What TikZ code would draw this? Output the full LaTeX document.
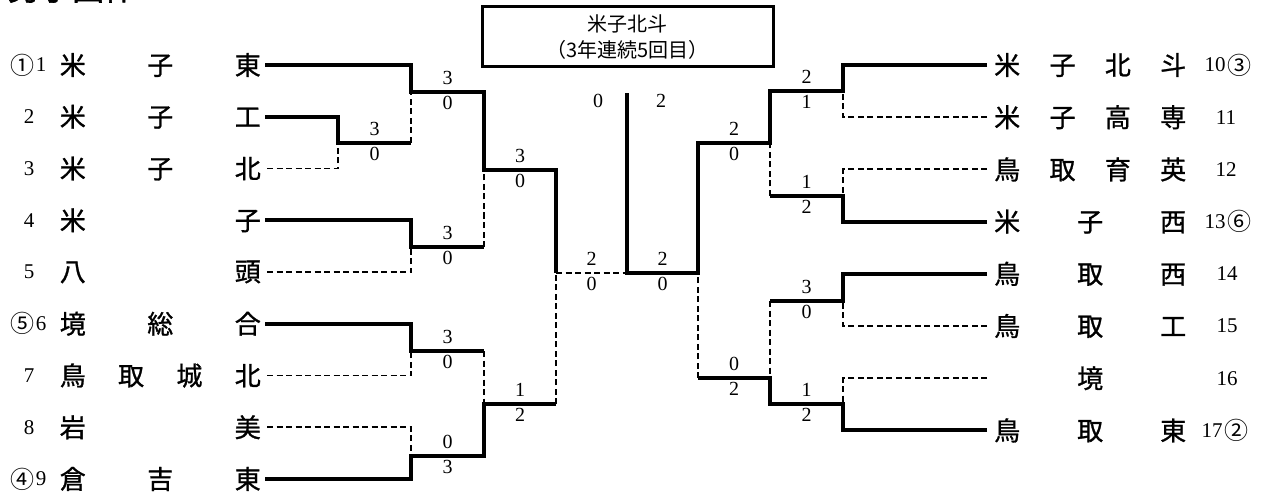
\documentclass[tikz,border=0pt]{standalone}
\usepackage{fontspec}
\newfontfamily\jp{Noto Sans CJK JP}
\newfontfamily\jpn[FakeBold=1]{Noto Sans CJK JP}
\newfontfamily\jpb[FakeBold=2]{Noto Sans CJK JP}
\newfontfamily\dg{Liberation Serif}
\newcommand\spL[1]{\makebox[201pt][s]{#1}}
\newcommand\spR[1]{\makebox[192pt][s]{#1}}
\newcommand\score[5]{%
  \node[sc] (#1t) at ({#2},{#3-14}) {#4};
  \node[sc] (#1b) at ({#2},{#3+11}) {#5};}
\begin{document}
\begin{tikzpicture}[x=1pt,y=-1pt,
  win/.style={line width=4pt},
  lose/.style={line width=1.8pt,dash pattern=on 6pt off 3.5pt},
  lname/.style={anchor=east,inner sep=0pt,font=\jpn\fontsize{26}{30}\selectfont},
  rname/.style={anchor=west,inner sep=0pt,font=\jpn\fontsize{26}{30}\selectfont},
  num/.style={inner sep=0pt,font=\dg\fontsize{21}{24}\selectfont},
  cnum/.style={inner sep=0pt,font=\jp\fontsize{24}{26}\selectfont},
  sc/.style={inner sep=0pt,font=\dg\fontsize{20}{22}\selectfont},
  titlebox/.style={draw,line width=3pt,minimum width=291pt,minimum height=60pt,
    align=center,inner sep=0pt,font=\jp\fontsize{20}{26}\selectfont}]
\useasboundingbox (0,0) rectangle (1263,497);
\fill[white] (0,0) rectangle (1263,497);
% cut-off heading
\node[anchor=base west,inner sep=0pt,font=\jpb\fontsize{32}{36}\selectfont] (head) at (8,0) {男子団体};
% title box
\node[titlebox] (title) at (627.5,37) {米子北斗\\（3年連続5回目）};
% left numbers
\node[cnum] (c1n) at (22,65) {①};   \node[num] (n1) at (41,65) {1};
\node[num] (n2) at (29,116.75) {2};
\node[num] (n3) at (29,168.5) {3};
\node[num] (n4) at (29,220.25) {4};
\node[num] (n5) at (29,272) {5};
\node[cnum] (c6n) at (22,323.75) {⑤}; \node[num] (n6) at (41,323.75) {6};
\node[num] (n7) at (29,375.5) {7};
\node[num] (n8) at (29,427.25) {8};
\node[cnum] (c9n) at (22,479) {④}; \node[num] (n9) at (41,479) {9};
% left names
\node[lname] (L1) at (261,65) {\spL{米\hfil 子\hfil 東}};
\node[lname] (L2) at (261,116.75) {\spL{米\hfil 子\hfil 工}};
\node[lname] (L3) at (261,168.5) {\spL{米\hfil 子\hfil 北}};
\node[lname] (L4) at (261,220.25) {\spL{米\hfil 子}};
\node[lname] (L5) at (261,272) {\spL{八\hfil 頭}};
\node[lname] (L6) at (261,323.75) {\spL{境\hfil 総\hfil 合}};
\node[lname] (L7) at (261,375.5) {\spL{鳥\hfil 取\hfil 城\hfil 北}};
\node[lname] (L8) at (261,427.25) {\spL{岩\hfil 美}};
\node[lname] (L9) at (261,479) {\spL{倉\hfil 吉\hfil 東}};
% right names
\node[rname] (R10) at (994,65) {\spR{米\hfil 子\hfil 北\hfil 斗}};
\node[rname] (R11) at (994,117.2) {\spR{米\hfil 子\hfil 高\hfil 専}};
\node[rname] (R12) at (994,169.4) {\spR{鳥\hfil 取\hfil 育\hfil 英}};
\node[rname] (R13) at (994,221.6) {\spR{米\hfil 子\hfil 西}};
\node[rname] (R14) at (994,273.8) {\spR{鳥\hfil 取\hfil 西}};
\node[rname] (R15) at (994,326) {\spR{鳥\hfil 取\hfil 工}};
\node[rname] (R16) at (994,378.2) {\makebox[192pt][c]{境}};
\node[rname] (R17) at (994,430.4) {\spR{鳥\hfil 取\hfil 東}};
% right numbers
\node[num] (n10) at (1215,65) {10}; \node[cnum] (c10n) at (1239,65) {③};
\node[num] (n11) at (1226,117.2) {11};
\node[num] (n12) at (1226,169.4) {12};
\node[num] (n13) at (1215,221.6) {13}; \node[cnum] (c13n) at (1239,221.6) {⑥};
\node[num] (n14) at (1227,273.8) {14};
\node[num] (n15) at (1227,326) {15};
\node[num] (n16) at (1227,378.2) {16};
\node[num] (n17) at (1212,430.4) {17}; \node[cnum] (c17n) at (1236,430.4) {②};
% joints left
\coordinate (c1) at (411,65);
\coordinate (c2) at (338,116.75);
\coordinate (c3) at (338,168.5);
\coordinate (c4) at (411,220.25);
\coordinate (c5) at (411,272);
\coordinate (c6) at (411,323.75);
\coordinate (c7) at (411,375.5);
\coordinate (c8) at (411,427.25);
\coordinate (c9) at (411,479);
\coordinate (m23) at (338,142.6); \coordinate (m23e) at (411,142.6);
\coordinate (m1) at (411,92);     \coordinate (m1e) at (484,92);
\coordinate (m45) at (411,247);   \coordinate (m45e) at (484,247);
\coordinate (m67) at (411,351);   \coordinate (m67e) at (484,351);
\coordinate (m89) at (411,456);   \coordinate (m89e) at (484,456);
\coordinate (qa) at (484,170);    \coordinate (qae) at (556,170);
\coordinate (qb) at (484,404);    \coordinate (qbe) at (556,404);
\coordinate (sl) at (556,273);
\coordinate (fin) at (627,273);   \coordinate (fintop) at (627,93);
% joints right
\coordinate (sr) at (698,273);
\coordinate (ra) at (770,143);    \coordinate (rae) at (698,143);
\coordinate (rb) at (770,378);    \coordinate (rbe) at (698,378);
\coordinate (k1) at (843,91);     \coordinate (k1e) at (770,91);
\coordinate (k2) at (843,196);    \coordinate (k2e) at (770,196);
\coordinate (k3) at (843,301);    \coordinate (k3e) at (770,301);
\coordinate (k4) at (843,404);    \coordinate (k4e) at (770,404);
\coordinate (d10) at (843,65);
\coordinate (d11) at (843,117.2);
\coordinate (d12) at (843,169.4);
\coordinate (d13) at (843,221.6);
\coordinate (d14) at (843,273.8);
\coordinate (d15) at (843,326);
\coordinate (d16) at (843,378.2);
\coordinate (d17) at (843,430.4);
% left bracket
\draw[win] ([xshift=4pt]L1.east) -- (c1) -- (m1) -- (m1e) -- (qa) -- (qae) -- (sl);
\draw[win] ([xshift=4pt]L2.east) -- (c2) -- (m23) -- (m23e);
\draw[lose] ([xshift=6pt]L3.east) -- (c3) -- (m23);
\draw[lose] (m23e) -- (m1);
\draw[win] ([xshift=4pt]L4.east) -- (c4) -- (m45) -- (m45e);
\draw[lose] ([xshift=6pt]L5.east) -- (c5) -- (m45);
\draw[lose] (m45e) -- (qa);
\draw[win] ([xshift=4pt]L6.east) -- (c6) -- (m67) -- (m67e);
\draw[lose] ([xshift=6pt]L7.east) -- (c7) -- (m67);
\draw[lose] ([xshift=6pt]L8.east) -- (c8) -- (m89);
\draw[win] ([xshift=4pt]L9.east) -- (c9) -- (m89) -- (m89e) -- (qb) -- (qbe);
\draw[lose] (m67e) -- (qb);
\draw[lose] (qbe) -- (sl);
\draw[lose] (sl) -- (fin);
% right bracket
\draw[win] ([xshift=-7pt]R10.west) -- (d10) -- (k1) -- (k1e) -- (ra) -- (rae) -- (sr) -- (fin) -- (fintop);
\draw[lose] ([xshift=-7pt]R11.west) -- (d11) -- (k1);
\draw[lose] ([xshift=-7pt]R12.west) -- (d12) -- (k2);
\draw[win] ([xshift=-7pt]R13.west) -- (d13) -- (k2) -- (k2e);
\draw[lose] (k2e) -- (ra);
\draw[win] ([xshift=-7pt]R14.west) -- (d14) -- (k3) -- (k3e);
\draw[lose] ([xshift=-7pt]R15.west) -- (d15) -- (k3);
\draw[lose] (k3e) -- (rb);
\draw[lose] ([xshift=-7pt]R16.west) -- (d16) -- (k4);
\draw[win] ([xshift=-7pt]R17.west) -- (d17) -- (k4) -- (k4e) -- (rb) -- (rbe);
\draw[lose] (rbe) -- (sr);
% scores
\score{sa}{374.5}{142.6}{3}{0}
\score{sb}{447.5}{92}{3}{0}
\score{sc}{447.5}{247}{3}{0}
\score{sd}{447.5}{351}{3}{0}
\score{se}{447.5}{456}{0}{3}
\score{sf}{520}{170}{3}{0}
\score{sg}{520}{404}{1}{2}
\score{sh}{591.5}{273}{2}{0}
\score{si}{662.5}{273}{2}{0}
\score{sj}{734}{143}{2}{0}
\score{sk}{734}{378}{0}{2}
\score{sl}{806.5}{91}{2}{1}
\score{sm}{806.5}{196}{1}{2}
\score{sn}{806.5}{301}{3}{0}
\score{so}{806.5}{404}{1}{2}
\node[sc] (fl) at (598,101) {0};
\node[sc] (fr) at (661,101) {2};
\end{tikzpicture}
\end{document}
